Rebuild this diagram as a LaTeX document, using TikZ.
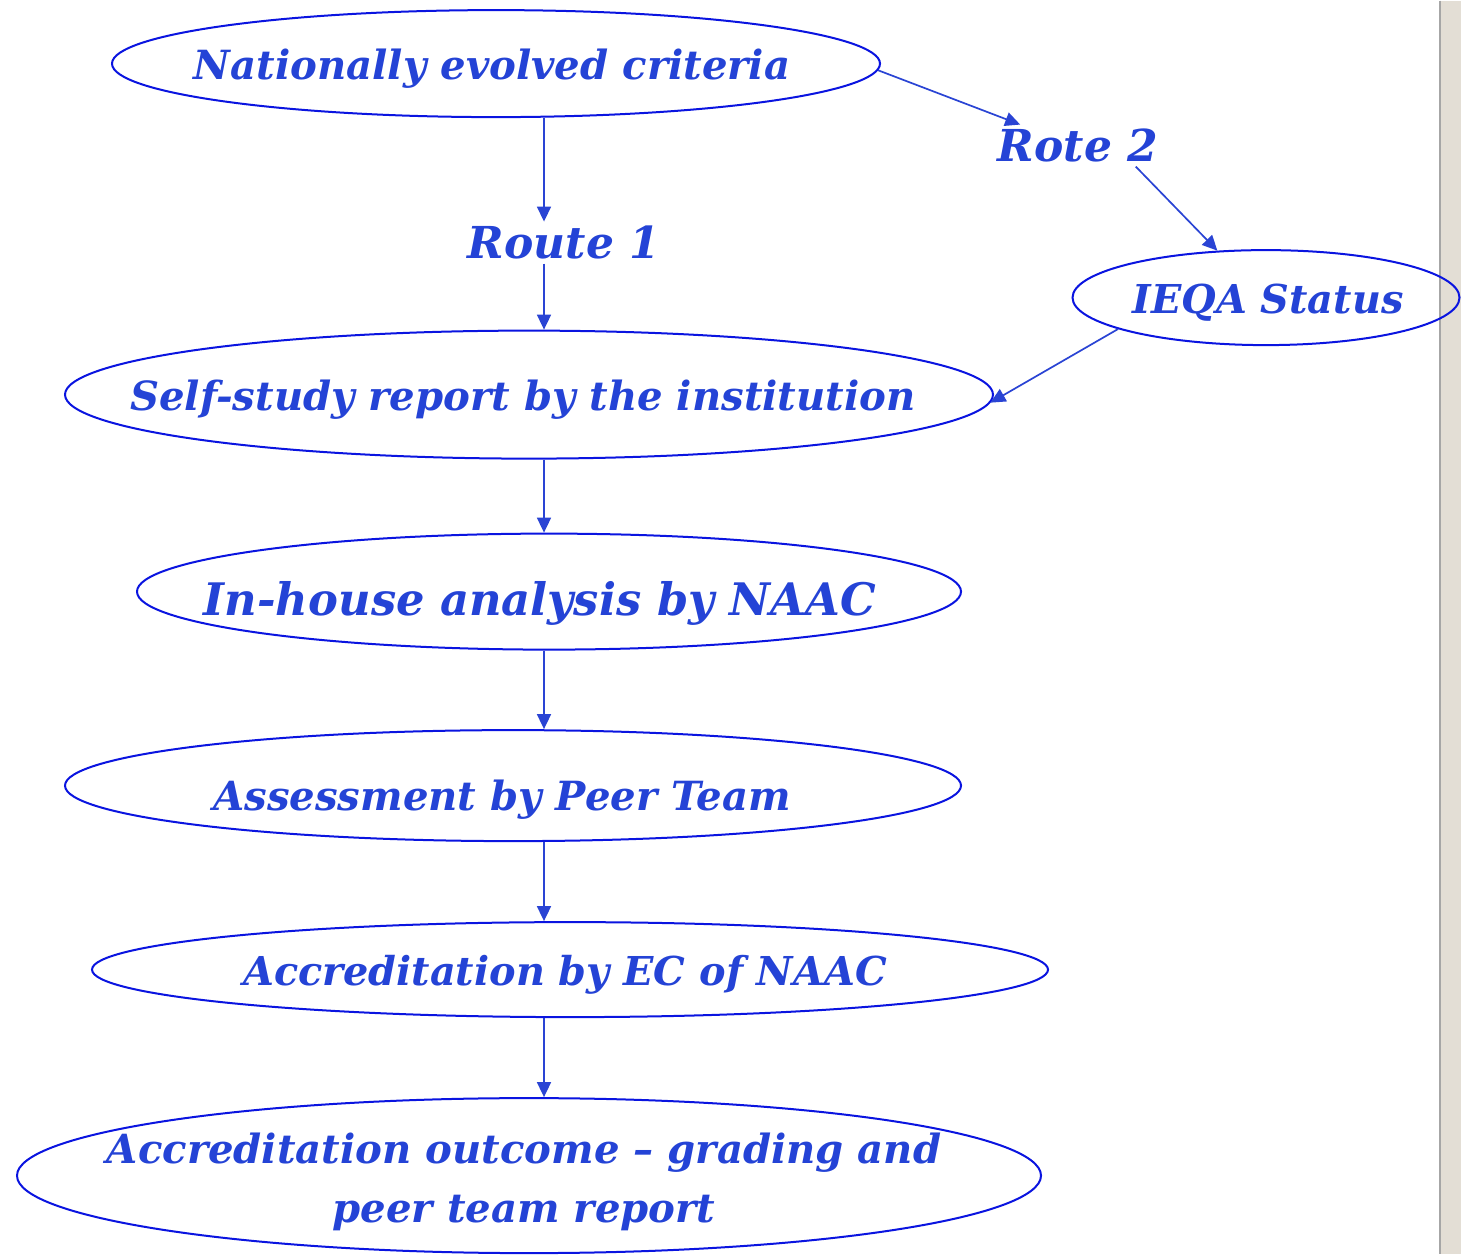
\documentclass[tikz,border=0pt]{standalone}
\usepackage{fontspec}
\setmainfont{DejaVu Serif}
\usetikzlibrary{shapes.geometric,arrows.meta}
\definecolor{ringblue}{HTML}{0A14E0}
\definecolor{wordblue}{HTML}{2443D6}
\definecolor{lineblue}{HTML}{2A44D4}
\definecolor{panel}{HTML}{E3DED5}
\begin{document}
\begin{tikzpicture}[x=0.5pt, y=-0.5pt,
      stage/.style={ellipse, draw=ringblue, line width=1pt, inner sep=0pt},
      word/.style={text=wordblue, inner sep=0pt, anchor=base, font=\bfseries\itshape\fontsize{#1}{29.5}\selectfont},
      word/.default=20.1,
      route/.style={text=wordblue, inner sep=2pt, font=\bfseries\itshape\fontsize{22}{26}\selectfont},
      arr/.style={draw=lineblue, line width=0.85pt, -{Triangle[length=7.5pt, width=7pt]}}]
%           \draw[help lines] (0,0) grid[step=100] (1461,1253);
            \fill[white] (0,0) rectangle (1461,1253);
            \fill[panel] (1440,0) rectangle (1461,1253);
            \draw[gray!70, line width=0.6pt] (1440,0) -- (1440,1253);
            \useasboundingbox (0,0) rectangle (1461,1253);
            % the ellipses
            \node[stage, minimum width=384pt, minimum height=53.5pt] (nec) at (496, 63) {};
            \node[stage, minimum width=193.5pt, minimum height=47.5pt] (ieqa) at (1266, 297) {};
            \node[stage, minimum width=464pt, minimum height=64pt] (ss) at (529, 394) {};
            \node[stage, minimum width=412pt, minimum height=58pt] (inh) at (549, 591) {};
            \node[stage, minimum width=448pt, minimum height=55.5pt] (peer) at (513, 785) {};
            \node[stage, minimum width=478pt, minimum height=47.5pt] (ec) at (570, 969) {};
            \node[stage, minimum width=512pt, minimum height=77.5pt] (out) at (529, 1175) {};
            % their texts
            \node[word] (necT) at (492, 79) {Nationally evolved criteria};
            \node[word=19.9] (ieqaT) at (1268, 313) {IEQA Status};
            \node[word] (ssT) at (523, 410) {Self-study report by the institution};
            \node[word=22.4] (inhT) at (540, 615) {In-house analysis by NAAC};
            \node[word] (peerT) at (502, 810) {Assessment by Peer Team};
            \node[word=19.9] (ecT) at (565, 985) {Accreditation by EC of NAAC};
            \node[word, align=center] (outT) at (524, 1222) {Accreditation outcome – grading and\\ peer team report};
            % the two routes
            \node[route] (route1) at (564, 242) {Route 1};
            \node[route] (rote2) at (1078, 145) {Rote 2};
            \coordinate (axis) at (544, 0);
            \draw[arr] (nec.south -| axis) -- (route1.north -| axis);
            \draw[arr] (route1.south -| axis) -- (ss.north -| axis);
            \draw[arr] (ss.south -| axis) -- (inh.north -| axis);
            \draw[arr] (inh.south -| axis) -- (peer.north -| axis);
            \draw[arr] (peer.south -| axis) -- (ec.north -| axis);
            \draw[arr] (ec.south -| axis) -- (out.north -| axis);
            \draw[arr] (nec.-1.3) -- (rote2.160);
            \draw[arr] (rote2.-20) -- (ieqa.136);
            \draw[arr] (ieqa.192) -- (ss.-1.5);
\end{tikzpicture}
\end{document}
